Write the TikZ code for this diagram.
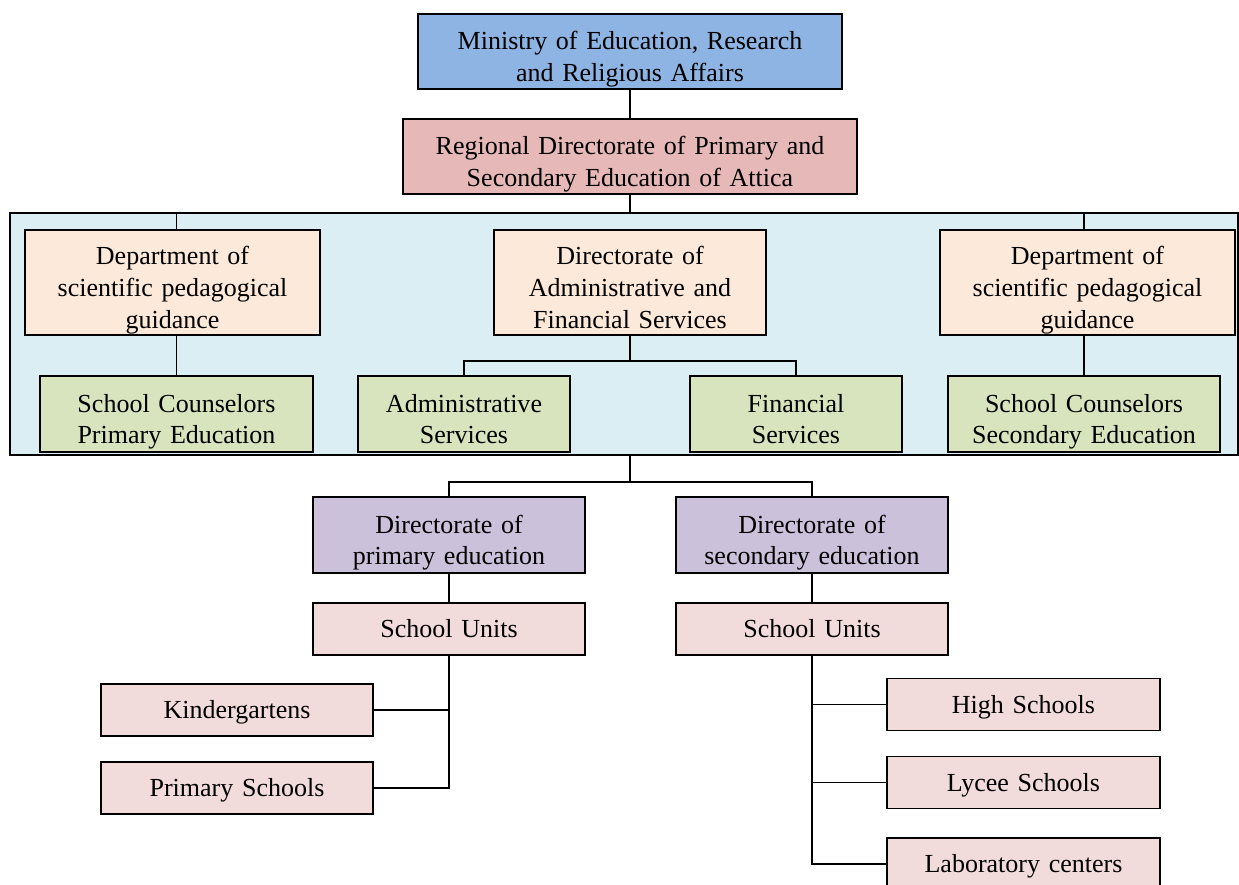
\documentclass[tikz,border=0pt]{standalone}
\usepackage{fontspec}
\setmainfont{Liberation Serif}

\definecolor{ministry}{RGB}{142,180,227}
\definecolor{regional}{RGB}{230,185,184}
\definecolor{panelfill}{RGB}{218,238,243}
\definecolor{dept}{RGB}{253,233,217}
\definecolor{service}{RGB}{215,228,189}
\definecolor{directorate}{RGB}{204,193,218}
\definecolor{unit}{RGB}{242,220,219}

\def\boxtop{16.2pt}
\tikzset{
	box/.style={draw, line width=1pt, inner sep=0pt, align=center,
		font=\fontsize{18.5}{22.7}\selectfont,
		execute at begin node={\rule{0pt}{\boxtop}},
		execute at end node={\rule[-4pt]{0pt}{0pt}}},
	multi/.code={\def\boxtop{23.9pt}},
	conn/.style={line width=1pt},
}

\begin{document}
\begin{tikzpicture}[x=0.025cm, y=-0.025cm]
		\useasboundingbox (0,0) rectangle (1239,885);
		\node[draw, line width=1.8pt, fill=panelfill, minimum width=30.7cm, minimum height=6.05cm] (panel) at (624,334) {};

		\node[box, multi, fill=ministry, text width=10.6cm, minimum height=1.875cm] (min) at (630,51.5) {Ministry of Education, Research\\and Religious Affairs};
		\node[box, multi, fill=regional, text width=11.35cm, minimum height=1.875cm] (reg) at (630,156.5) {Regional Directorate of Primary and\\Secondary Education of Attica};

		\node[box, multi, fill=dept, text width=7.375cm, minimum height=2.625cm] (deptL) at (172.5,282.5) {Department of\\scientific pedagogical\\guidance};
		\node[box, multi, fill=dept, text width=6.8cm, minimum height=2.625cm] (dirAF) at (630,282.5) {Directorate of\\Administrative and\\Financial Services};
		\node[box, multi, fill=dept, text width=7.375cm, minimum height=2.625cm] (deptR) at (1087.5,282.5) {Department of\\scientific pedagogical\\guidance};

		\node[box, multi, fill=service, text width=6.825cm, minimum height=1.9cm] (csP) at (176.5,414) {School Counselors\\Primary Education};
		\node[box, multi, fill=service, text width=5.3cm, minimum height=1.9cm] (admS) at (464,414) {Administrative\\Services};
		\node[box, multi, fill=service, text width=5.3cm, minimum height=1.9cm] (finS) at (796,414) {Financial\\Services};
		\node[box, multi, fill=service, text width=6.8cm, minimum height=1.9cm] (csS) at (1084,414) {School Counselors\\Secondary Education};

		\node[box, multi, fill=directorate, text width=6.8cm, minimum height=1.9cm] (dirP) at (449,535) {Directorate of\\primary education};
		\node[box, multi, fill=directorate, text width=6.8cm, minimum height=1.9cm] (dirS) at (812,535) {Directorate of\\secondary education};

		\node[box, fill=unit, text width=6.8cm, minimum height=1.3cm] (suP) at (449,629) {School Units};
		\node[box, fill=unit, text width=6.8cm, minimum height=1.3cm] (suS) at (812,629) {School Units};

		\node[box, fill=unit, text width=6.8cm, minimum height=1.3cm] (kind) at (237,710) {Kindergartens};
		\node[box, fill=unit, text width=6.8cm, minimum height=1.3cm] (psch) at (237,788) {Primary Schools};

		\node[box, fill=unit, text width=6.825cm, minimum height=1.3cm] (high) at (1023.5,704.5) {High Schools};
		\node[box, fill=unit, text width=6.825cm, minimum height=1.3cm] (lyc) at (1023.5,782.5) {Lycee Schools};
		\node[box, fill=unit, text width=6.825cm, minimum height=1.3cm] (lab) at (1023.5,864) {Laboratory centers};

		\coordinate (afjoin) at (630,361);
		\coordinate (edjoin) at (630,482);

		\draw[conn] (min) -- (reg);
		\draw[conn] (reg) -- (reg |- panel.north);
		\draw[conn] (panel.north -| csP) -- (deptL.north -| csP);
		\draw[conn] (deptL.south -| csP) -- (csP);
		\draw[conn] (panel.north -| csS) -- (deptR.north -| csS);
		\draw[conn] (deptR.south -| csS) -- (csS);
		\draw[conn] (dirAF) -- (afjoin);
		\draw[conn] (admS) |- (afjoin) -| (finS);

		\draw[conn] (panel.south -| edjoin) -- (edjoin);
		\draw[conn] (dirP) |- (edjoin) -| (dirS);
		\draw[conn] (dirP) -- (suP);
		\draw[conn] (dirS) -- (suS);

		\draw[conn] (suP) |- (psch);
		\draw[conn] (kind) -- (kind -| suP);
		\draw[conn] (suS) |- (lab);
		\draw[conn] (suS |- high) -- (high);
		\draw[conn] (suS |- lyc) -- (lyc);
\end{tikzpicture}
\end{document}
